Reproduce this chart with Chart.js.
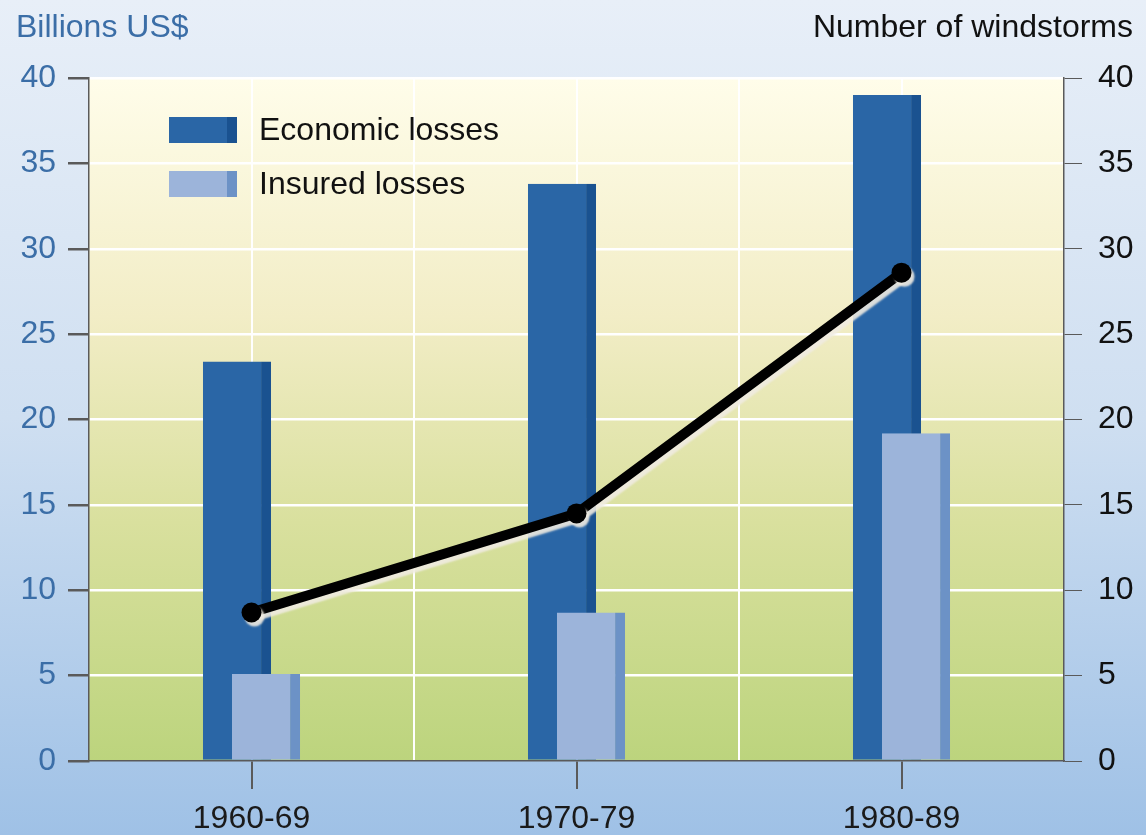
<!DOCTYPE html>
<html>
<head>
<meta charset="utf-8">
<script src="https://cdn.jsdelivr.net/npm/chart.js@4.4.0/dist/chart.umd.min.js"></script>
<style>
body { margin: 0; }
</style>
</head>
<body>
<canvas id="myChart" width="1146" height="835"></canvas>
<script>
// losses per decade (billions US$) and number of windstorms
var decades = ['1960-69', '1970-79', '1980-89'];
var economicLosses = [23.4, 33.8, 39.0];
var insuredLosses = [5.1, 8.7, 19.2];
var windstorms = [8.7, 14.5, 28.6];
var spacer = [null, null, null];
var leftTitle = 'Billions US$';
var rightTitle = 'Number of windstorms';

var font = "'Liberation Sans', Arial, sans-serif";
var blueText = '#3b6ea7';
var axisGray = '#5a5a5a';

// page background + cream-to-green plot background
var backdrop = {
  id: 'backdrop',
  beforeDraw: function (chart) {
    var ctx = chart.ctx;
    var a = chart.chartArea;
    var g = ctx.createLinearGradient(0, 0, 0, chart.height);
    g.addColorStop(0, '#e8eff8');
    g.addColorStop(0.5, '#cfdff1');
    g.addColorStop(1, '#9fc1e6');
    ctx.save();
    ctx.fillStyle = g;
    ctx.fillRect(0, 0, chart.width, chart.height);
    var p = ctx.createLinearGradient(0, a.top, 0, a.bottom);
    p.addColorStop(0, '#fffdea');
    p.addColorStop(0.35, '#f2edc6');
    p.addColorStop(0.65, '#d9e09e');
    p.addColorStop(1, '#bcd47d');
    ctx.fillStyle = p;
    ctx.fillRect(a.left, a.top, a.right - a.left, a.bottom - a.top);
    ctx.restore();
  }
};

// soft shadow under the windstorm line
var lineShadow = {
  id: 'lineShadow',
  beforeDatasetDraw: function (chart, args) {
    if (args.meta.type !== 'line') return;
    var ctx = chart.ctx;
    ctx.save();
    ctx.shadowColor = 'rgba(240,235,225,0.9)';
    ctx.shadowOffsetX = 3;
    ctx.shadowOffsetY = 4;
    ctx.shadowBlur = 2;
  },
  afterDatasetDraw: function (chart, args) {
    if (args.meta.type !== 'line') return;
    chart.ctx.restore();
  }
};

var barOpts = {
  categoryPercentage: 0.1785,
  barPercentage: 2.35,
  borderWidth: { top: 0, right: 10, bottom: 0, left: 0 },
  borderSkipped: false
};

// economic bar sits in the left slot, insured bar in the right slot and is drawn over it
var economicSet = Object.assign({
  label: 'Economic losses',
  data: economicLosses,
  stack: 'economic',
  order: 3,
  backgroundColor: '#2a66a6',
  borderColor: '#1a5290'
}, barOpts);

var insuredSet = Object.assign({
  label: 'Insured losses',
  data: insuredLosses,
  stack: 'insured',
  order: 2,
  backgroundColor: '#9cb4da',
  borderColor: '#6c92c6'
}, barOpts);

// empty set that claims the left slot first so the ordering above works out
var slotSet = Object.assign({ label: '', data: spacer, stack: 'economic', order: 1 }, barOpts);

var stormSet = {
  type: 'line',
  label: 'Number of windstorms',
  data: windstorms,
  yAxisID: 'y2',
  order: 0,
  borderColor: '#000',
  borderWidth: 10,
  pointRadius: 10,
  pointBorderWidth: 0,
  pointBackgroundColor: '#000',
  tension: 0
};

// axis titles and the legend inside the plot
var labels = {
  id: 'labels',
  afterDraw: function (chart) {
    var ctx = chart.ctx;
    var a = chart.chartArea;
    ctx.save();
    ctx.font = '32px ' + font;
    ctx.textBaseline = 'middle';
    ctx.fillStyle = blueText;
    ctx.textAlign = 'left';
    ctx.fillText(leftTitle, 16, 28);
    ctx.fillStyle = '#111';
    ctx.textAlign = 'right';
    ctx.fillText(rightTitle, 1133, 28);

    [economicSet, insuredSet].forEach(function (ds, row) {
      var x = a.left + 80;
      var y = a.top + 39 + row * 54;
      ctx.fillStyle = ds.backgroundColor;
      ctx.fillRect(x, y, 68, 26);
      ctx.fillStyle = ds.borderColor;
      ctx.fillRect(x + 58, y, 10, 26);
      ctx.fillStyle = '#111';
      ctx.textAlign = 'left';
      ctx.fillText(ds.label, x + 90, y + 14);
    });
    ctx.restore();
  }
};

var myChart = new Chart(document.getElementById('myChart'), {
  type: 'bar',
  data: {
    labels: decades,
    datasets: [stormSet, slotSet, insuredSet, economicSet]
  },
  options: {
    responsive: false,
    animation: false,
    devicePixelRatio: 1,
    layout: { padding: { top: 78, left: 0, right: 0, bottom: 0 } },
    plugins: { legend: { display: false }, tooltip: { enabled: false } },
    scales: {
      x: {
        type: 'category',
        position: 'bottom',
        offset: true,
        afterFit: function (s) { s.height = 74; },
        grid: { offset: false, color: '#ffffff', lineWidth: 2, tickColor: axisGray, tickLength: 28 },
        border: { display: true, color: axisGray, width: 1.5 },
        ticks: { color: '#1a1a1a', font: { family: font, size: 32 }, padding: 11 }
      },
      // second category axis only for the white lines between decades
      x2: {
        type: 'category',
        position: 'bottom',
        offset: true,
        grid: {
          offset: true,
          drawTicks: false,
          lineWidth: 2,
          color: function (c) { return c.index > 0 ? '#ffffff' : 'rgba(0,0,0,0)'; }
        },
        border: { display: false },
        ticks: { display: false }
      },
      y: {
        position: 'left',
        min: 0,
        max: 40,
        afterFit: function (s) { s.width = 89; },
        ticks: { stepSize: 5, color: blueText, font: { family: font, size: 32 }, padding: 12 },
        grid: {
          lineWidth: 2.5,
          color: function (c) { return c.tick && c.tick.value === 0 ? 'rgba(0,0,0,0)' : '#ffffff'; },
          tickColor: axisGray,
          tickLength: 21
        },
        border: { display: true, color: axisGray, width: 1.5 }
      },
      y2: {
        position: 'right',
        min: 0,
        max: 40,
        afterFit: function (s) { s.width = 82; },
        ticks: { stepSize: 5, color: '#111', font: { family: font, size: 32 }, padding: 16 },
        grid: { drawOnChartArea: false, tickColor: axisGray, tickLength: 18 },
        border: { display: true, color: axisGray, width: 1.5 }
      }
    }
  },
  plugins: [backdrop, lineShadow, labels]
});
</script>
</body>
</html>
